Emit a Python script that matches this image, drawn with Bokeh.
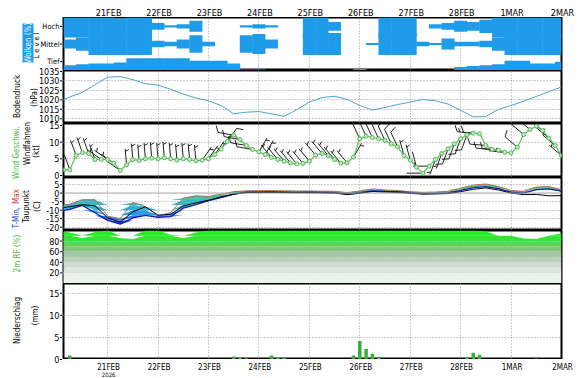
import numpy as np
from bokeh.plotting import figure
from bokeh.layouts import column, row
from bokeh.models import Range1d, FixedTicker, Grid, Span
from bokeh.embed import file_html
from bokeh.resources import INLINE
from bokeh.core.properties import value

# ---------------- data (time in days from 21 FEB 2026 00 UTC) ----------------
day_ticks = [0, 1, 2, 3, 4, 5, 6, 7, 8, 9]
day_labels = ["21FEB", "22FEB", "23FEB", "24FEB", "25FEB", "26FEB", "27FEB", "28FEB", "1MAR", "2MAR"]
year_label = "2026"

t6 = np.arange(-1.0, 9.001, 0.25)      # 6-hourly steps (41)
t3 = np.arange(-0.875, 9.001, 0.125)   # 3-hourly steps (80)
cloud_t = t6[1:]                        # 40 cloud steps

cloud_levels = ["Tief", "Mittel", "Hoch"]
cloud_high = [100, 100, 100, 100, 70, 100, 100, 30, 10, 20,
              50, 0, 0, 0, 10, 20, 10, 0, 0, 100,
              100, 40, 0, 0, 0, 100, 100, 90, 0, 20,
              30, 50, 40, 60, 100, 100, 100, 100, 100, 100]
cloud_mid = [40, 60, 100, 100, 100, 100, 100, 30, 20, 40,
             80, 20, 0, 0, 80, 90, 40, 0, 0, 100,
             100, 100, 0, 0, 10, 100, 100, 100, 20, 10,
             50, 20, 20, 30, 60, 100, 100, 100, 100, 100]
cloud_low = [30, 35, 40, 40, 45, 70, 70, 70, 70, 70,
             55, 55, 55, 40, 5, 5, 0, 0, 0, 0,
             0, 0, 0, 10, 0, 0, 0, 0, 0, 0,
             0, 20, 25, 30, 35, 55, 55, 40, 40, 50]

pressure = [1018.5, 1021.5, 1024, 1028, 1032, 1032.3, 1030.7, 1028.5, 1027.8, 1025.6,
            1023, 1021, 1019.5, 1017, 1012.6, 1013.5, 1013.8, 1012.6, 1011.3, 1014.8,
            1018.8, 1021.2, 1021.9, 1020.3, 1017, 1014.6, 1016, 1017.5, 1018.8, 1020.2,
            1019.5, 1017.8, 1014.5, 1011, 1011.2, 1015, 1017, 1019.3, 1021.8, 1024.3, 1026.8]

wind_speed = [1.7, 1.7, 6.0, 6.9, 6.6, 4.8, 4.8, 4.8, 3.7, 1.5,
              3.2, 4.8, 4.5, 5.0, 5.2, 5.0, 5.3, 5.0, 4.6, 5.0,
              4.8, 4.4, 4.6, 5.0, 6.3, 8.0, 10.2, 12.1, 10.8, 9.0,
              7.8, 7.1, 6.3, 5.4, 4.8, 4.3, 3.8, 3.5, 3.6, 4.3,
              6.1, 6.6, 6.0, 4.8, 3.7, 3.8, 5.5, 11.0, 11.8, 11.4,
              11.0, 10.5, 9.5, 8.6, 6.0, 4.6, 2.5, 0.7, 2.8, 4.8,
              6.6, 8.0, 9.5, 11.0, 12.2, 12.7, 12.5, 9.0, 7.8, 7.6,
              7.0, 6.8, 8.5, 12.3, 13.8, 14.8, 13.5, 11.2, 9.0, 6.0]
wind_dir = [340, 340, 340, 340, 340, 340, 305, 305, 305, 305,
            355, 355, 355, 355, 355, 355, 355, 355, 355, 355,
            355, 355, 35, 35, 35, 35, 35, 280, 280, 280,
            280, 30, 30, 320, 320, 320, 320, 320, 320, 320,
            320, 320, 320, 320, 320, 320, 30, 335, 335, 335,
            335, 335, 335, 335, 345, 345, 345, 270, 270, 200,
            200, 200, 200, 200, 200, 275, 275, 275, 275, 275,
            275, 275, 310, 310, 310, 310, 310, 310, 310, 310]

t_max = [-7.5, -6.5, -3.9, -3.9, -13.5, -15, -5.5, -8, -13.3, -11.5,
         -3, -1.6, -2, -0.7, 0.8, 1.3, 1.4, 1.4, 1.3, 1.2,
         1.2, 1.1, 1.0, 0.3, 1.2, 2.4, 1.8, 1.5, 0.8, 0.4,
         0.6, 1.0, 2.8, 4.6, 5.3, 3.8, 1.5, 1.0, 3.5, 3.8, 2.0]
t_min = [-10.5, -9.6, -7.2, -11.5, -16, -18.2, -14.5, -13, -14.2, -13.8,
         -8.8, -6.7, -4.4, -2.6, -0.6, 0.5, 0.6, 0.7, 0.6, 0.4,
         0.5, 0.4, 0.2, -0.6, 0.3, 1.3, 1.0, 0.8, 0.2, -0.3,
         -0.2, 0.1, 1.6, 3.2, 3.8, 2.6, 0.5, 0.0, 2.0, 2.4, 1.2]
dewpoint = [-9, -8, -6.8, -7.5, -14.5, -17, -11, -8, -13, -12.5,
            -7.5, -5.7, -4.2, -2.2, -0.7, 0.3, 0.4, 0.5, 0.3, 0.2,
            0.2, 0.1, 0.0, -0.9, -0.1, 0.9, 0.6, 0.4, -0.2, -0.6,
            -0.5, -0.3, 0.8, 2.2, 3.0, 1.8, 0.0, -0.9, -0.8, -1.6, -1.5]

rh = [100, 96, 86, 97, 100, 86, 84, 100, 100, 92,
      86, 96, 100, 100, 100, 100, 100, 100, 100, 100,
      100, 100, 100, 100, 100, 100, 100, 100, 100, 100,
      100, 100, 100, 100, 98, 90, 90, 85, 84, 90, 95]

precip = [0, 0.9, 0, 0, 0, 0, 0, 0, 0, 0,
          0, 0, 0, 0, 0, 0, 0, 0, 0, 0,
          0, 0, 0, 0, 0, 0, 0, 0.7, 0.35, 0.3,
          0, 0, 0, 0.9, 0.4, 0.4, 0, 0, 0, 0,
          0, 0, 0, 0, 0, 0, 0.9, 4.2, 2.4, 1.3,
          0.6, 0, 0, 0, 0, 0, 0, 0, 0, 0,
          0, 0, 0, 0, 0.35, 1.5, 1.1, 0, 0, 0,
          0, 0, 0, 0, 0, 0.2, 0.1, 0.1, 0, 0]

cloud_ticks = [0.5, 1.5, 2.5]
pres_ticks = [1010, 1015, 1020, 1025, 1030, 1035]
wind_ticks = [0, 5, 10, 15]
temp_ticks = [-20, -15, -10, -5, 0, 5]
rh_ticks = [20, 40, 60, 80]
prcp_ticks = [0, 5, 10, 15]

# ---------------- layout / styling ----------------
FONT = "DejaVu Sans Condensed"
FW = 498
X0, X1 = -0.875, 9.0
xr = Range1d(X0, X1)
px_day = FW / (X1 - X0)
BLUE = "#1e9be9"
GRIDC = "#9a9a9a"
LW = 62                 # left label strip width
R = 14                  # right border
TOPH, BOTH = 17, 19
heights = [53, 53, 54, 53, 53, 76]
yr = [(0, 3), (1007.5, 1035.5), (-0.6, 15.6), (-21.9, 9.1), (0, 100), (0, 17.2)]
tops = []
_y = TOPH
for h in heights:
    tops.append(_y)
    _y += h
H_TOTAL = TOPH + sum(heights) + BOTH


def ypage(i, v):
    y0, y1 = yr[i]
    return tops[i] + (y1 - v) / (y1 - y0) * heights[i]


def panel(i):
    p = figure(frame_width=FW, frame_height=heights[i], x_range=xr, y_range=Range1d(*yr[i]),
               x_axis_location=None, y_axis_location=None, output_backend="svg", toolbar_location=None,
               title=None, min_border_left=1, min_border_right=R, min_border_top=0, min_border_bottom=0,
               outline_line_color="black", outline_line_width=2, outline_line_alpha=1.0,
               background_fill_color="white", border_fill_color="white")
    p.grid.visible = False
    p.add_layout(Grid(dimension=0, ticker=FixedTicker(ticks=day_ticks),
                      grid_line_color=GRIDC, grid_line_dash="1 2", grid_line_width=1))
    return p


def hgrid(p, ticks, level="underlay", color=GRIDC):
    p.add_layout(Grid(dimension=1, ticker=FixedTicker(ticks=ticks), level=level,
                      grid_line_color=color, grid_line_dash="1 2", grid_line_width=1))


def strip(h, ytop):
    s = figure(frame_width=1 + FW + R, frame_height=h,
               x_range=Range1d(X0 - 1 / px_day, X1 + R / px_day), y_range=Range1d(ytop + h, ytop),
               x_axis_location=None, y_axis_location=None, output_backend="svg", toolbar_location=None,
               title=None, min_border=0, outline_line_color=None,
               background_fill_color="white", border_fill_color="white")
    s.grid.visible = False
    return s


# ---- date strips (top and bottom) ----
top = strip(TOPH, 0)
top.text(x=day_ticks, y=[12.6] * len(day_ticks), text=day_labels, text_align="center",
         text_baseline="alphabetic", text_font=value(FONT), text_font_size=value("9px"), text_color="black")
bot_top = TOPH + sum(heights)
bot = strip(BOTH, bot_top)
bot.text(x=day_ticks, y=[bot_top + 7.7] * len(day_ticks), text=day_labels, text_align="center",
         text_baseline="alphabetic", text_font=value(FONT), text_font_size=value("8px"), text_color="black")
bot.text(x=[0], y=[bot_top + 15.0], text=[year_label], text_align="center", text_baseline="alphabetic",
         text_font=value(FONT), text_font_size=value("6px"), text_color="black")

# ---- clouds ----
p1 = panel(0)
sc = 1.25
hh = np.array(cloud_high) / 100.0 * sc
mm = np.array(cloud_mid) / 100.0 * sc
ll = np.array(cloud_low) / 100.0
for b, t in [(2.5 - hh / 2, 2.5 + hh / 2), (1.5 - mm / 2, 1.5 + mm / 2), (np.zeros(len(ll)), ll)]:
    p1.vbar(x=cloud_t, bottom=b, top=t, width=0.258, fill_color=BLUE, line_color=None)

# ---- pressure ----
p2 = panel(1)
hgrid(p2, [1010, 1015, 1020, 1025, 1030])
p2.line(t6, pressure, line_color="#4aa3d0", line_width=1)

# ---- wind ----
p3 = panel(2)
hgrid(p3, [5, 10])
W0, W1 = yr[2]
px_kt = heights[2] / (W1 - W0)
STAFF, FULL, HALF, GAP = 16.0, 7.0, 4.0, 2.6
sx0, sy0, sx1, sy1 = [], [], [], []
for t, s, d in zip(t3, wind_speed, wind_dir):
    a = np.radians(d)
    ux, uy = np.sin(a), np.cos(a)
    fx, fy = uy, -ux

    def seg(ax_, ay_, bx_, by_):
        sx0.append(t + ax_ / px_day); sy0.append(s + ay_ / px_kt)
        sx1.append(t + bx_ / px_day); sy1.append(s + by_ / px_kt)

    seg(0, 0, STAFF * ux, STAFF * uy)
    n5 = int(round(s / 5.0))
    nfull, nhalf = divmod(n5, 2)
    pos = STAFF
    for k in range(nfull):
        bx, by = pos * ux, pos * uy
        seg(bx, by, bx + FULL * (0.9 * fx + 0.4 * ux), by + FULL * (0.9 * fy + 0.4 * uy))
        pos -= GAP
    if nhalf:
        if nfull == 0:
            pos -= GAP
        bx, by = pos * ux, pos * uy
        seg(bx, by, bx + HALF * (0.9 * fx + 0.4 * ux), by + HALF * (0.9 * fy + 0.4 * uy))
p3.segment(x0=sx0, y0=sy0, x1=sx1, y1=sy1, line_color="#202020", line_width=1)
p3.line(t3, wind_speed, line_color="#5cbf5c", line_width=1.2)
p3.scatter(t3, wind_speed, size=4, marker="circle", fill_color="#c4ecc4", line_color="#55b555", line_width=1)

# ---- temperature ----
p4 = panel(3)
hgrid(p4, [-20, -15, -10, -5, 5])
p4.add_layout(Span(location=0, dimension="width", line_color="#a0a0a0", line_width=1))
tb_edges = [-30, -16, -13, -10, -7, -4, -1, 2, 12]
tb_colors = ["#2458e6", "#2a7cf0", "#2e9ae6", "#31b0d6", "#36bcc4", "#3cc4b0", "#46cc98", "#55d488"]
tmin_a = np.array(t_min)
tmax_a = np.array(t_max)
for lo, hi, c in zip(tb_edges[:-1], tb_edges[1:], tb_colors):
    p4.varea(x=t6, y1=np.clip(tmin_a, lo, hi), y2=np.clip(tmax_a, lo, hi), fill_color=c)
p4.line(t6, t_max, line_color="#b06a50", line_width=1)
p4.line(t6, t_min, line_color="#1a1aa8", line_width=1.3)
p4.line(t6, dewpoint, line_color="black", line_width=1)

# ---- relative humidity ----
p5 = panel(4)
rb_edges = [0, 20, 30, 40, 50, 60, 70, 80, 90, 101]
rb_colors = ["#eaf2ea", "#dce8dc", "#cddccd", "#bccfbc", "#a4c8a4", "#80c880", "#55d455", "#33e433", "#22ee22"]
rh_a = np.array(rh)
for lo, hi, c in zip(rb_edges[:-1], rb_edges[1:], rb_colors):
    p5.varea(x=t6, y1=np.full(len(t6), lo), y2=np.clip(rh_a, lo, hi), fill_color=c)
hgrid(p5, [20, 40, 60, 80], level="annotation", color="#c8c8c8")

# ---- precipitation ----
p6 = panel(5)
hgrid(p6, [5, 10, 15])
p6.vbar(x=t3, top=precip, width=0.07, fill_color="#38b038", line_color=None)

# ---------------- left label strip (y tick labels + panel titles) ----------------
lab = figure(frame_width=LW, frame_height=H_TOTAL, x_range=Range1d(0, LW),
             y_range=Range1d(H_TOTAL, 0), x_axis_location=None, y_axis_location=None,
             output_backend="svg", toolbar_location=None, title=None, min_border=0,
             outline_line_color=None, background_fill_color="white", border_fill_color="white")
lab.grid.visible = False

tick_sets = [
    (0, cloud_ticks, cloud_levels),
    (1, pres_ticks, [str(v) for v in pres_ticks]),
    (2, wind_ticks, [str(v) for v in wind_ticks]),
    (3, temp_ticks, [str(v) for v in temp_ticks]),
    (4, rh_ticks, [str(v) for v in rh_ticks]),
    (5, prcp_ticks, [str(v) for v in prcp_ticks]),
]
for i, ticks, texts in tick_sets:
    ys = [ypage(i, v) for v in ticks]
    lab.text(x=[59] * len(ys), y=ys, text=texts, text_align="right", text_baseline="middle",
             text_font=value(FONT), text_font_size=value("7.5px" if i == 0 else "9px"),
             text_color="black")
    lab.segment(x0=[59.5] * len(ys), y0=ys, x1=[62] * len(ys), y1=ys, line_color="black", line_width=1)

# panel titles: (text, x, y, colour)
titles = [
    ("Bodendruck", 16.5, 96, "black"),
    ("(hPa)", 33.5, 97, "black"),
    ("Wind Geschwi.", 16, 152, "#3fb93f"),
    ("Windfahnen", 26.5, 143, "black"),
    ("(kt)", 36, 151, "black"),
    ("T-Min,", 16, 217, "#2040d0"),
    ("Max", 16, 196, "#e03030"),
    ("Taupunkt", 26, 206, "black"),
    ("(C)", 37, 206, "black"),
    ("2m RF (%)", 16.5, 253, "#3fb93f"),
    ("Niederschlag", 16.5, 320, "black"),
    ("(mm)", 35, 315, "black"),
]
lab.rect(x=[27.5], y=[42.5], width=11, height=39, fill_color=BLUE, line_color=None)
lab.text(x=[27.5], y=[42.5], text=["Wolken (%)"], angle=np.pi / 2, text_align="center",
         text_baseline="middle", text_font=value(FONT), text_font_size=value("8px"), text_color="white")
lab.text(x=[35.5], y=[45], text=["L e v e l"], angle=np.pi / 2, text_align="center",
         text_baseline="middle", text_font=value(FONT), text_font_size=value("7.5px"), text_color="black")
lab.text(x=[t[1] for t in titles], y=[t[2] for t in titles],
         text=[t[0] for t in titles], text_color=[t[3] for t in titles], angle=np.pi / 2,
         text_align="center", text_baseline="middle", text_font=value(FONT),
         text_font_size=value("8px"))

layout = row(lab, column(top, p1, p2, p3, p4, p5, p6, bot, spacing=0), spacing=0)
open("out.html", "w").write(file_html(layout, INLINE))
